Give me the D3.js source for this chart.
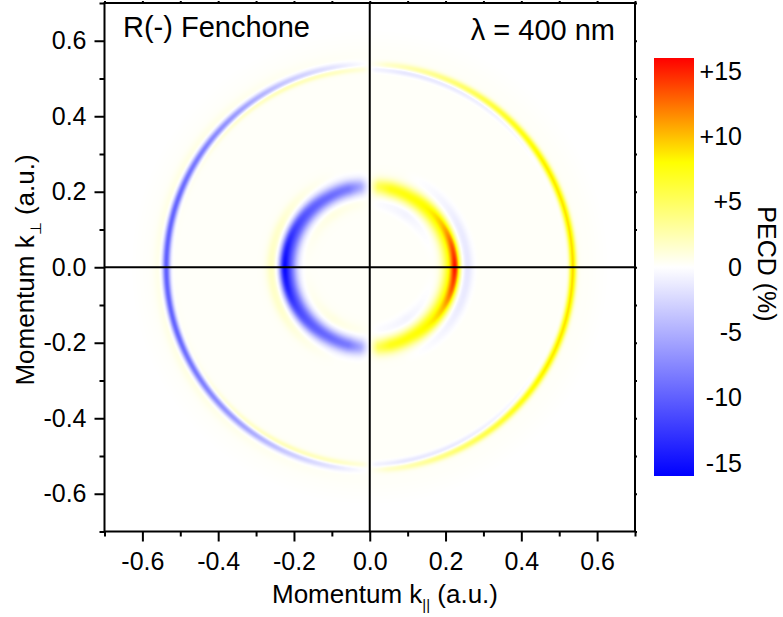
<!DOCTYPE html>
<html>
<head>
<meta charset="utf-8">
<script src="https://cdn.jsdelivr.net/npm/d3@7"></script>
<style>
    body { margin: 0; background: #fff; }
    svg { font-family: "Liberation Sans", Arial, sans-serif; }
    .axis text { font-size: 25px; fill: #000; }
    .axis line { stroke: #000; stroke-width: 2px; }
    .axis .domain { display: none; }
</style>
</head>
<body>
<svg id="chart" width="783" height="617"></svg>
<script>
// axis ticks
var majorTicks = [-0.6, -0.4, -0.2, 0, 0.2, 0.4, 0.6];
var majorLabels = ["-0.6", "-0.4", "-0.2", "0.0", "0.2", "0.4", "0.6"];
var minorTicks = [-0.7, -0.5, -0.3, -0.1, 0.1, 0.3, 0.5, 0.7];
var tenthTicks = [-0.7, -0.6, -0.5, -0.4, -0.3, -0.2, -0.1, 0, 0.1, 0.2, 0.3, 0.4, 0.5, 0.6, 0.7];

// colour bar
var pecdStops = [-16, 0, 8, 16];
var pecdColors = ["#0000ff", "#ffffff", "#ffff00", "#ff0000"];
var barTicks = [15, 10, 5, 0, -5, -10, -15];
var barLabels = ["+15", "+10", "+5", "0", "-5", "-10", "-15"];

// ring components: momentum radius, radial width (a.u.), and PECD (%) read along the angle
// angle is measured from +k|| (0 deg) to -k|| (180 deg), picture is mirror symmetric in k_perp
var innerBroadK = 0.214, innerBroadW = 0.015;
var innerBroadAngles = [0, 20, 40, 60, 75, 84, 90, 96, 105, 120, 140, 160, 180];
var innerBroadPecd = [7.5, 7.5, 7.5, 7.5, 7, 5, 0, -5.5, -8.5, -9.5, -10, -10.5, -11];

var innerCoreK = 0.227, innerCoreW = 0.008;
var innerCoreAngles = [0, 15, 30, 45, 60, 90, 120, 135, 150, 165, 180];
var innerCorePecd = [10, 7.5, 4, 1.5, 0, 0, 0, -1.5, -3.5, -6, -7.5];

var innerHaloK = 0.258, innerHaloW = 0.011;
var innerHaloAngles = [0, 25, 50, 70, 90, 110, 130, 155, 180];
var innerHaloPecd = [-1.8, -1.5, -0.6, 0, 0, 0, 0.6, 1.5, 1.8];

var innerDipK = 0.17, innerDipW = 0.012;
var innerDipAngles = [0, 30, 55, 80, 90, 100, 125, 150, 180];
var innerDipPecd = [0, -0.4, -1, -0.5, 0, 0.4, 0.8, 0.4, 0];

var outerMainK = 0.537, outerMainW = 0.007;
var outerMainAngles = [0, 30, 45, 60, 75, 85, 90, 95, 100, 115, 130, 145, 160, 180];
var outerMainPecd = [9, 8.5, 7, 5, 3, 1.5, 0, -1, -2, -4, -6.5, -8.5, -10, -10.5];

var outerInK = 0.524, outerInW = 0.006;
var outerInAngles = [0, 30, 50, 65, 80, 88, 90, 92, 100, 115, 130, 150, 180];
var outerInPecd = [-0.3, -0.5, -1.5, -2, -2, -1, 0, 1, 2, 2.5, 2, 0.8, 0];

var outerOutK = 0.556, outerOutW = 0.01;
var outerOutAngles = [0, 90, 120, 150, 180];
var outerOutPecd = [0, 0, 0.3, 0.7, 0.5];

// faint level of the detector area
var backgroundK = [0, 0.57, 0.63];
var backgroundPecd = [0.2, 0.2, 0];

var svg = d3.select('#chart');

var x = d3.scaleLinear().domain([-0.7, 0.7]).range([104.5, 635]);
var y = d3.scaleLinear().domain([-0.7, 0.7]).range([531.5, 3]);

var color = d3.scaleLinear().domain(pecdStops).range(pecdColors).clamp(true);

function ring(k0, w, angles, values) {
    var amp = d3.scaleLinear().domain(angles).range(values).clamp(true);
    return function (r, theta) {
        var d = (r - k0) / w;
        if (Math.abs(d) > 5) return 0;
        return amp(theta) * Math.exp(-0.5 * d * d);
    }
}

var rings = [
    ring(innerBroadK, innerBroadW, innerBroadAngles, innerBroadPecd),
    ring(innerCoreK, innerCoreW, innerCoreAngles, innerCorePecd),
    ring(innerHaloK, innerHaloW, innerHaloAngles, innerHaloPecd),
    ring(innerDipK, innerDipW, innerDipAngles, innerDipPecd),
    ring(outerMainK, outerMainW, outerMainAngles, outerMainPecd),
    ring(outerInK, outerInW, outerInAngles, outerInPecd),
    ring(outerOutK, outerOutW, outerOutAngles, outerOutPecd)
];
var background = d3.scaleLinear().domain(backgroundK).range(backgroundPecd).clamp(true);

// draw the PECD map into a canvas, then put it in the svg as an image
function drawMap() {
    var x0 = x.range()[0], y0 = y.range()[1];
    var w = Math.round(x.range()[1] - x0), h = Math.round(y.range()[0] - y0);
    var canvas = document.createElement('canvas');
    canvas.width = w;
    canvas.height = h;
    var ctx = canvas.getContext('2d');
    var img = ctx.createImageData(w, h);
    for (var j = 0; j < h; j++) {
        var ky = y.invert(y0 + j + 0.5);
        for (var i = 0; i < w; i++) {
            var kx = x.invert(x0 + i + 0.5);
            var r = Math.sqrt(kx * kx + ky * ky);
            var theta = Math.atan2(Math.abs(ky), kx) * 180 / Math.PI;
            var v = background(r);
            for (var n = 0; n < rings.length; n++) v += rings[n](r, theta);
            var c = d3.rgb(color(v));
            var p = (j * w + i) * 4;
            img.data[p] = c.r;
            img.data[p + 1] = c.g;
            img.data[p + 2] = c.b;
            img.data[p + 3] = 255;
        }
    }
    ctx.putImageData(img, 0, 0);
    svg.append('image')
        .attr('x', x0)
        .attr('y', y0)
        .attr('width', x.range()[1] - x0)
        .attr('height', y.range()[0] - y0)
        .attr('preserveAspectRatio', 'none')
        .attr('href', canvas.toDataURL());
}
drawMap();

// zero lines
svg.append('line')
    .attr('x1', x(0)).attr('x2', x(0))
    .attr('y1', y(0.7)).attr('y2', y(-0.7))
    .style('stroke', '#000').style('stroke-width', 2);
svg.append('line')
    .attr('x1', x(-0.7)).attr('x2', x(0.7))
    .attr('y1', y(0)).attr('y2', y(0))
    .style('stroke', '#000').style('stroke-width', 2);

// frame
svg.append('rect')
    .attr('x', x(-0.7)).attr('y', y(0.7))
    .attr('width', x(0.7) - x(-0.7)).attr('height', y(-0.7) - y(0.7))
    .style('fill', 'none').style('stroke', '#000').style('stroke-width', 2);

// axes
svg.append('g').attr('class', 'axis')
    .attr('transform', 'translate(0,' + y(-0.7) + ')')
    .call(d3.axisBottom(x).tickValues(majorTicks).tickSize(10).tickPadding(11)
        .tickFormat(function (d, i) { return majorLabels[i] }));
svg.append('g').attr('class', 'axis')
    .attr('transform', 'translate(0,' + y(-0.7) + ')')
    .call(d3.axisBottom(x).tickValues(minorTicks).tickSize(5).tickFormat(''));
svg.append('g').attr('class', 'axis')
    .attr('transform', 'translate(' + x(-0.7) + ',0)')
    .call(d3.axisLeft(y).tickValues(majorTicks).tickSize(10).tickPadding(8)
        .tickFormat(function (d, i) { return majorLabels[i] }));
svg.append('g').attr('class', 'axis')
    .attr('transform', 'translate(' + x(-0.7) + ',0)')
    .call(d3.axisLeft(y).tickValues(minorTicks).tickSize(5).tickFormat(''));
svg.append('g').attr('class', 'axis')
    .attr('transform', 'translate(0,' + y(0.7) + ')')
    .call(d3.axisTop(x).tickValues(tenthTicks).tickSize(2).tickFormat(''));
svg.append('g').attr('class', 'axis')
    .attr('transform', 'translate(' + x(0.7) + ',0)')
    .call(d3.axisRight(y).tickValues(tenthTicks).tickSize(2).tickFormat(''));

// axis titles
var xt = svg.append('text')
    .attr('x', 385).attr('y', 603)
    .attr('text-anchor', 'middle')
    .style('font-size', '26px');
xt.append('tspan').text('Momentum k');
xt.append('tspan').attr('dy', 7).style('font-size', '15px').text('||');
xt.append('tspan').attr('dy', -7).text(' (a.u.)');

var yt = svg.append('text')
    .attr('transform', 'translate(34,270) rotate(-90)')
    .attr('text-anchor', 'middle')
    .style('font-size', '26px');
yt.append('tspan').text('Momentum k');
yt.append('tspan').attr('dy', 7).style('font-size', '15px').text('\u22a5');
yt.append('tspan').attr('dy', -7).text(' (a.u.)');

// labels inside the map
svg.append('text')
    .attr('x', 123).attr('y', 37)
    .style('font-size', '29px')
    .text('R(-) Fenchone');
svg.append('text')
    .attr('x', 615).attr('y', 40)
    .attr('text-anchor', 'end')
    .style('font-size', '29px')
    .text('\u03bb = 400 nm');

// colour bar
var cb = d3.scaleLinear().domain([-16, 16]).range([476, 58]);
var grad = svg.append('defs').append('linearGradient')
    .attr('id', 'pecdGrad')
    .attr('x1', 0).attr('y1', 0).attr('x2', 0).attr('y2', 1);
grad.selectAll('stop')
    .data(pecdStops.slice().reverse())
    .enter().append('stop')
    .attr('offset', function (d) { return (cb(d) - cb(16)) / (cb(-16) - cb(16)) })
    .attr('stop-color', function (d) { return color(d) });

svg.append('rect')
    .attr('x', 654).attr('y', cb(16))
    .attr('width', 40).attr('height', cb(-16) - cb(16))
    .style('fill', 'url(#pecdGrad)');

svg.selectAll('.barlab')
    .data(barTicks)
    .enter().append('text')
    .attr('class', 'barlab')
    .attr('x', 742)
    .attr('y', function (d) { return cb(d) })
    .attr('dy', '0.35em')
    .attr('text-anchor', 'end')
    .style('font-size', '25px')
    .text(function (d, i) { return barLabels[i] });

svg.append('text')
    .attr('transform', 'translate(758,264) rotate(90)')
    .attr('text-anchor', 'middle')
    .style('font-size', '25px')
    .text('PECD (%)');
</script>
</body>
</html>
